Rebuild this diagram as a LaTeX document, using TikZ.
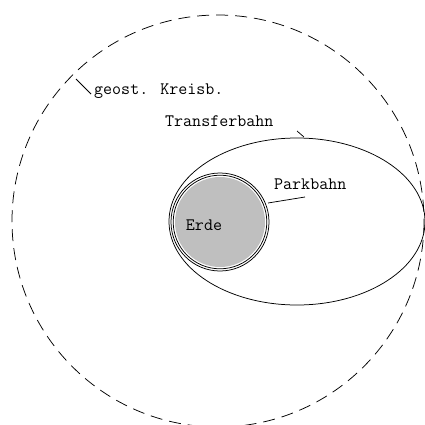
\documentclass[tikz,border=0pt]{standalone}
\begin{document}
\begin{tikzpicture}[x=1pt,y=-1pt,
  orbit/.style={draw=black,line width=0.75pt},
  geoline/.style={draw=black,line width=0.75pt,dash pattern=on 12pt off 7pt},
  lbl/.style={inner sep=0pt,font=\fontsize{17.5}{20}\ttfamily},
  leader/.style={draw=black,line width=0.75pt}]
\useasboundingbox (0,0) rectangle (425,425);
% geostationary circle
\draw[geoline] (218,221) circle [radius=206];
% transfer ellipse
\draw[orbit] (297,221.5) ellipse [x radius=128, y radius=83.5];
% earth
\fill[black!25] (220,222) circle [radius=45];
% parking orbit (double)
\draw[orbit] (220,222) circle [radius=46.8];
\draw[orbit] (220,222) circle [radius=49];
% labels
\node[lbl,anchor=west] (geo) at (94,91) {geost. Kreisb.};
\node[lbl,anchor=west] (trans) at (165,121) {Transferbahn};
\node[lbl,anchor=west] (park) at (274,184) {Parkbahn};
\node[lbl] (erde) at (204,225) {Erde};
% leader lines
\coordinate (g1) at (76,79);
\coordinate (g2) at (91,94);
\coordinate (t1) at (297,131);
\coordinate (t2) at (304,137);
\coordinate (p1) at (268,203);
\coordinate (p2) at (305,197);
\draw[leader] (g1) -- (g2);
\draw[leader] (t1) -- (t2);
\draw[leader] (p1) -- (p2);
\end{tikzpicture}
\end{document}
